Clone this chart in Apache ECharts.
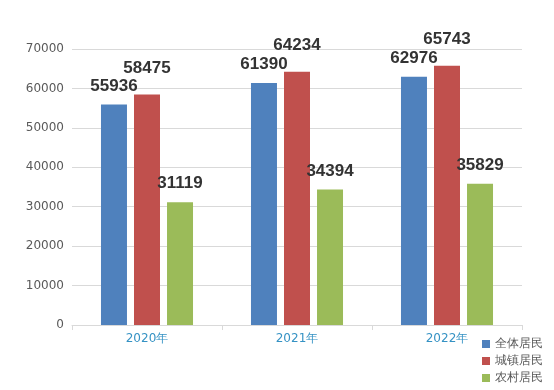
<!DOCTYPE html>
<html><head><meta charset="utf-8">
<script src="https://cdn.jsdelivr.net/npm/echarts@6/dist/echarts.min.js"></script>
<style>html,body{margin:0;padding:0;background:#fff}#c{width:554px;height:390px}</style>
</head><body><div id="c"></div>
<script>
var categories = ['2020年', '2021年', '2022年'];
var seriesNames = ['全体居民', '城镇居民', '农村居民'];
var allResidents = [55936, 61390, 62976];
var urbanResidents = [58475, 64234, 65743];
var ruralResidents = [31119, 34394, 35829];
var yTicks = {min: 0, max: 70000, interval: 10000};

var colors = ['#4F81BD', '#C0504D', '#9BBB59'];
var dist = [10, 18, 10];
var dataSets = [allResidents, urbanResidents, ruralResidents];
var chart = echarts.init(document.getElementById('c'));
chart.setOption({
  animation: false,
  textStyle: {fontFamily: 'DejaVu Sans'},
  grid: {left: 72, right: 32, top: 49, bottom: 65},
  legend: {
    orient: 'vertical', left: 482, top: 338, itemWidth: 8, itemHeight: 8, itemGap: 5,
    icon: 'rect', padding: 0,
    textStyle: {color: '#595959', fontSize: 12, fontFamily: 'DejaVu Sans'},
    data: seriesNames
  },
  xAxis: {
    type: 'category', data: categories,
    axisLine: {lineStyle: {color: '#d9d9d9'}},
    axisTick: {show: true, length: 5, lineStyle: {color: '#d9d9d9'}},
    axisLabel: {color: '#3592c4', fontSize: 12, margin: 8}
  },
  yAxis: {
    type: 'value', min: yTicks.min, max: yTicks.max, interval: yTicks.interval,
    axisLine: {show: false}, axisTick: {show: false},
    axisLabel: {color: '#595959', fontSize: 12, margin: 8, formatter: function (v) { return String(v); }},
    splitLine: {lineStyle: {color: '#d9d9d9'}}
  },
  series: seriesNames.map(function (n, i) {
    return {
      name: n, type: 'bar', data: dataSets[i], barWidth: 26, barGap: '27%',
      itemStyle: {color: colors[i]},
      label: {show: true, position: 'top', distance: dist[i], color: '#333',
        fontSize: 17, fontWeight: 'bold', fontFamily: 'Liberation Sans'}
    };
  })
});
</script></body></html>
